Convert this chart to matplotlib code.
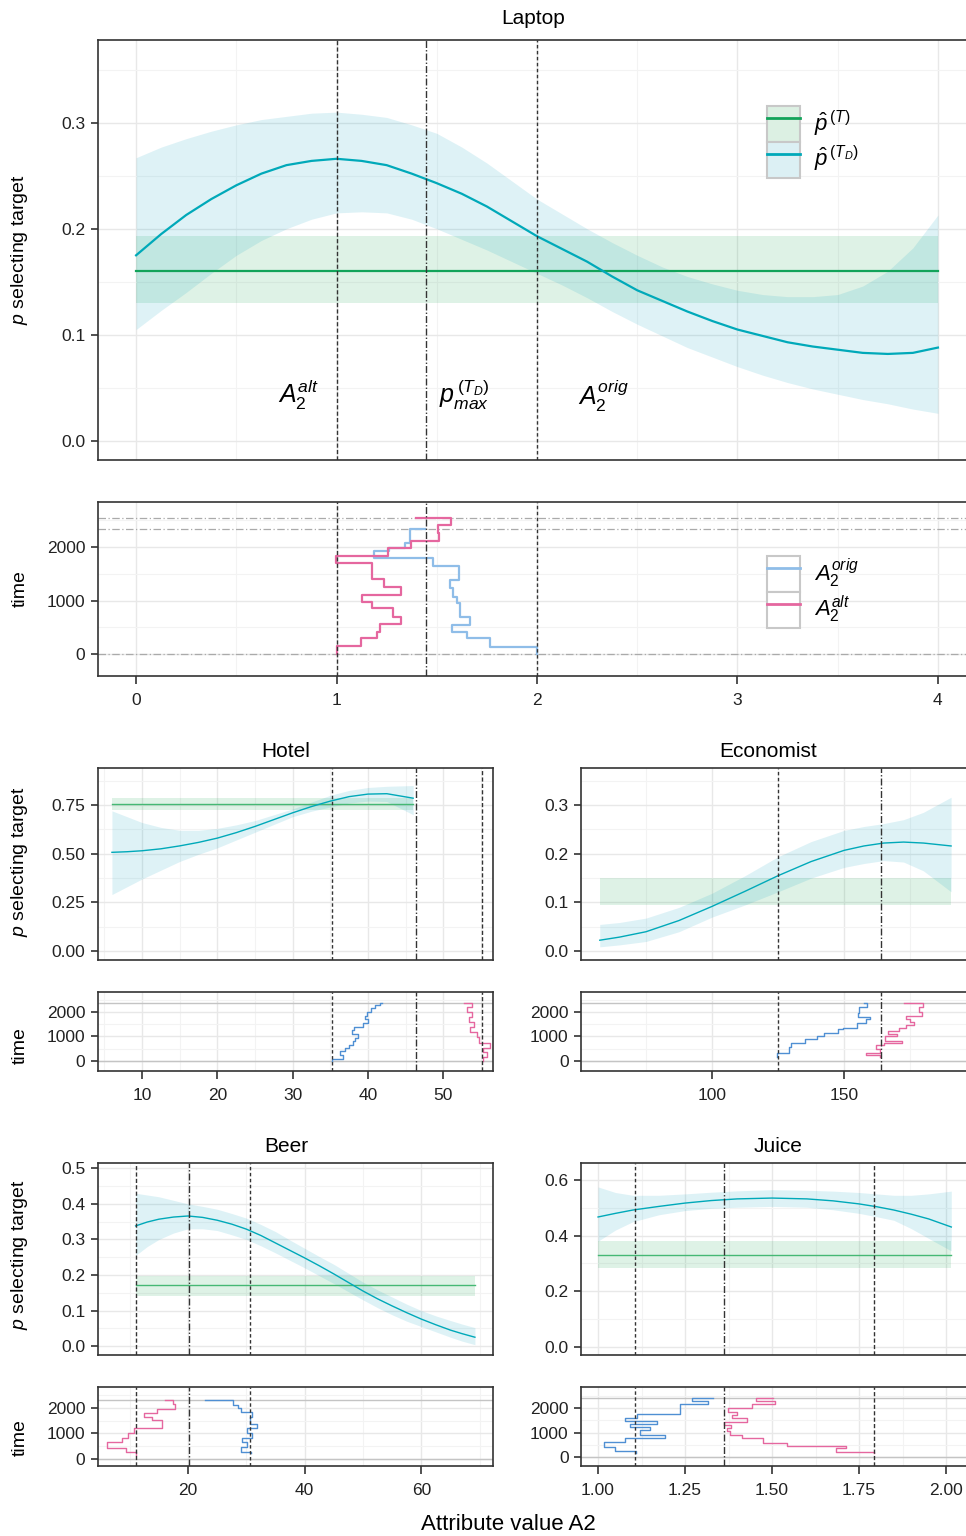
import numpy as np
import matplotlib
matplotlib.use("Agg")
import matplotlib.pyplot as plt
from matplotlib.patches import Patch
from matplotlib.lines import Line2D
from matplotlib.ticker import MultipleLocator

plt.rcParams['font.family'] = ['Liberation Sans', 'DejaVu Sans']
plt.rcParams['mathtext.fontset'] = 'custom'
plt.rcParams['mathtext.rm'] = 'Liberation Sans'
plt.rcParams['mathtext.it'] = 'Liberation Sans:italic'

# ---------------- data ----------------
# Laptop
lap_x = [0, 0.125, 0.25, 0.375, 0.5, 0.625, 0.75, 0.875, 1.0, 1.125, 1.25, 1.375, 1.5, 1.625, 1.75, 1.875,
         2.0, 2.125, 2.25, 2.375, 2.5, 2.625, 2.75, 2.875, 3.0, 3.125, 3.25, 3.375, 3.5, 3.625, 3.75, 3.875, 4.0]
lap_td = [0.175, 0.195, 0.213, 0.228, 0.241, 0.252, 0.260, 0.264, 0.266, 0.264, 0.260, 0.252, 0.243, 0.233,
          0.221, 0.207, 0.193, 0.181, 0.169, 0.155, 0.142, 0.132, 0.122, 0.113, 0.105, 0.099, 0.093, 0.089,
          0.086, 0.083, 0.082, 0.083, 0.088]
lap_td_hi = [0.267, 0.277, 0.285, 0.292, 0.298, 0.303, 0.306, 0.309, 0.310, 0.308, 0.305, 0.298, 0.290, 0.277,
             0.262, 0.245, 0.228, 0.214, 0.200, 0.187, 0.175, 0.164, 0.155, 0.148, 0.142, 0.138, 0.136, 0.136,
             0.138, 0.146, 0.160, 0.182, 0.213]
lap_td_lo = [0.105, 0.123, 0.140, 0.158, 0.175, 0.189, 0.200, 0.209, 0.215, 0.216, 0.215, 0.209, 0.200, 0.190,
             0.180, 0.169, 0.158, 0.147, 0.135, 0.122, 0.110, 0.099, 0.088, 0.079, 0.070, 0.062, 0.055, 0.049,
             0.044, 0.039, 0.035, 0.030, 0.026]
lap_tx = [0, 4]
lap_t = [0.160, 0.160]
lap_t_lo = [0.130, 0.130]
lap_t_hi = [0.193, 0.193]
lap_lines = {"alt": 1.0, "pmax": 1.445, "orig": 2.0}
lap_orig_x = [2.0, 1.765, 1.653, 1.578, 1.667, 1.617, 1.600, 1.583, 1.567, 1.612, 1.483, 1.187, 1.260, 1.342, 1.367, 1.440]
lap_orig_t = [0, 137, 293, 420, 542, 698, 947, 1071, 1227, 1383, 1651, 1788, 1931, 1990, 2081, 2336]
lap_alt_x = [1.0, 1.12, 1.203, 1.217, 1.32, 1.283, 1.175, 1.125, 1.32, 1.237, 1.178, 0.995, 1.257, 1.37, 1.512, 1.507, 1.57, 1.395]
lap_alt_t = [0, 150, 293, 417, 561, 698, 854, 978, 1103, 1258, 1402, 1695, 1832, 1975, 2118, 2255, 2411, 2540]

# Hotel
hot_x = [6, 8, 10, 12.5, 15, 17.5, 20, 22.5, 25, 27.5, 30, 32.5, 35, 37.5, 40, 42.5, 46]
hot_td = [0.507, 0.510, 0.515, 0.525, 0.540, 0.558, 0.580, 0.608, 0.640, 0.675, 0.710, 0.742, 0.770, 0.793,
          0.806, 0.808, 0.785]
hot_td_hi = [0.72, 0.69, 0.66, 0.635, 0.620, 0.620, 0.630, 0.648, 0.670, 0.700, 0.730, 0.765, 0.800, 0.825,
             0.840, 0.846, 0.850]
hot_td_lo = [0.29, 0.33, 0.37, 0.415, 0.460, 0.497, 0.530, 0.570, 0.610, 0.650, 0.690, 0.718, 0.740, 0.760,
             0.770, 0.768, 0.700]
hot_tx = [6, 46]
hot_t = [0.755, 0.755]
hot_t_lo = [0.723, 0.723]
hot_t_hi = [0.785, 0.785]
hot_lines = {"orig": 35.25, "pmax": 46.4, "alt": 55.2}
hot_orig_x = [35.2, 36.7, 36.3, 37.0, 37.5, 38.0, 38.3, 38.7, 37.9, 38.1, 39.4, 40.0, 39.6, 39.9, 40.4, 40.9, 41.6, 41.8]
hot_orig_t = [0, 80, 250, 400, 520, 650, 800, 950, 1100, 1250, 1400, 1550, 1700, 1850, 2000, 2150, 2300, 2367]
hot_alt_x = [55.23, 55.8, 55.27, 56.24, 54.69, 54.47, 53.59, 54.12, 53.37, 53.81, 53.15, 53.81, 52.79]
hot_alt_t = [0, 177, 354, 517, 721, 993, 1197, 1401, 1605, 1810, 2014, 2218, 2354]

# Economist
eco_x = [57.5, 65, 75, 87.5, 100, 112.5, 125, 137.5, 150, 157.5, 165, 172.5, 180, 190.5]
eco_td = [0.0226, 0.029, 0.040, 0.063, 0.092, 0.123, 0.155, 0.184, 0.207, 0.216, 0.222, 0.224, 0.222, 0.216]
eco_td_hi = [0.055, 0.059, 0.068, 0.090, 0.119, 0.155, 0.194, 0.225, 0.248, 0.256, 0.262, 0.270, 0.285, 0.316]
eco_td_lo = [0.009, 0.013, 0.020, 0.040, 0.070, 0.095, 0.122, 0.150, 0.172, 0.180, 0.186, 0.183, 0.165, 0.122]
eco_tx = [57.5, 190.5]
eco_t_lo = [0.095, 0.095]
eco_t_hi = [0.150, 0.150]
eco_lines = {"orig": 125.0, "pmax": 164.0}
eco_orig_x = [124.7, 129.3, 129.8, 135.2, 139.9, 142.2, 147.5, 149.5, 154.8, 158.3, 159.8, 155.2, 155.8, 158.8, 157.6]
eco_orig_t = [177, 340, 585, 748, 884, 1020, 1156, 1293, 1361, 1565, 1700, 1810, 1973, 2218, 2381]
eco_alt_x = [163.6, 158.3, 163.6, 162.0, 165.0, 172.0, 165.4, 170.0, 166.7, 170.7, 173.5, 176.4, 174.9, 173.3, 179.5, 178.3, 180.0, 172.5]
eco_alt_t = [150, 230, 340, 500, 650, 740, 800, 1020, 1100, 1230, 1360, 1470, 1610, 1700, 1850, 2000, 2218, 2381]

# Beer
bee_x = [11, 13, 15, 17.5, 20, 22.5, 25, 27.5, 30, 32.5, 35, 37.5, 40, 42.5, 45, 47.5, 50, 52.5, 55, 57.5,
         60, 62.5, 65, 67, 69.2]
bee_td = [0.338, 0.349, 0.357, 0.363, 0.366, 0.362, 0.354, 0.343, 0.329, 0.311, 0.290, 0.269, 0.248, 0.226,
          0.203, 0.179, 0.155, 0.133, 0.113, 0.094, 0.076, 0.060, 0.045, 0.035, 0.025]
bee_td_hi = [0.43, 0.425, 0.42, 0.41, 0.40, 0.393, 0.385, 0.373, 0.36, 0.342, 0.322, 0.298, 0.275, 0.252,
             0.23, 0.205, 0.18, 0.158, 0.138, 0.118, 0.10, 0.085, 0.072, 0.062, 0.052]
bee_td_lo = [0.255, 0.28, 0.30, 0.318, 0.33, 0.33, 0.325, 0.313, 0.30, 0.282, 0.262, 0.241, 0.22, 0.198,
             0.176, 0.153, 0.13, 0.108, 0.088, 0.07, 0.055, 0.04, 0.025, 0.014, 0.004]
bee_tx = [11.06, 69.2]
bee_t = [0.172, 0.172]
bee_t_lo = [0.141, 0.141]
bee_t_hi = [0.197, 0.197]
bee_lines = {"alt": 11.06, "pmax": 20.15, "orig": 30.6}
bee_alt_x = [11.06, 9.3, 6.05, 8.6, 9.77, 10.8, 15.5, 13.8, 12.5, 14.6, 17.7, 17.4, 16.1]
bee_alt_t = [150, 288, 418, 654, 810, 1007, 1203, 1529, 1660, 1791, 1961, 2144, 2314]
bee_orig_x = [30.79, 29.07, 30.04, 29.19, 30.9, 30.04, 31.76, 30.62, 30.9, 29.07, 28.5, 27.76, 22.9]
bee_orig_t = [222, 288, 484, 654, 810, 1007, 1203, 1360, 1660, 1856, 2013, 2118, 2314]

# Juice
jui_x = [1.0, 1.05, 1.1, 1.175, 1.25, 1.325, 1.4, 1.5, 1.6, 1.675, 1.75, 1.8, 1.85, 1.9, 1.95, 2.015]
jui_td = [0.467, 0.480, 0.492, 0.505, 0.517, 0.526, 0.532, 0.535, 0.532, 0.525, 0.514, 0.504, 0.492, 0.477,
          0.460, 0.431]
jui_td_hi = [0.575, 0.555, 0.545, 0.545, 0.550, 0.556, 0.561, 0.565, 0.563, 0.560, 0.555, 0.550, 0.545,
             0.545, 0.550, 0.560]
jui_td_lo = [0.380, 0.420, 0.450, 0.475, 0.490, 0.498, 0.502, 0.505, 0.502, 0.493, 0.480, 0.468, 0.455,
             0.425, 0.390, 0.345]
jui_tx = [1.0, 2.015]
jui_t = [0.331, 0.331]
jui_t_lo = [0.284, 0.284]
jui_t_hi = [0.381, 0.381]
jui_lines = {"orig": 1.106, "pmax": 1.362, "alt": 1.793}
jui_orig_x = [1.109, 1.049, 1.017, 1.078, 1.191, 1.121, 1.149, 1.092, 1.169, 1.078, 1.111, 1.235, 1.315, 1.269, 1.329]
jui_orig_t = [150, 245, 422, 626, 762, 898, 1102, 1238, 1333, 1469, 1605, 1741, 2149, 2299, 2422]
jui_alt_x = [1.793, 1.684, 1.712, 1.544, 1.473, 1.413, 1.379, 1.370, 1.381, 1.362, 1.427, 1.384, 1.398, 1.374, 1.441, 1.508, 1.453, 1.503]
jui_alt_t = [150, 190, 381, 449, 585, 762, 898, 1061, 1197, 1306, 1442, 1578, 1714, 1850, 1986, 2149, 2286, 2422]

# ---------------- styling ----------------
CYAN = '#00a9b9'
CYAN_BAND = '#00a0c0'
GREEN = '#12a35a'
GREEN_SMALL = '#45b874'
GREEN_BAND = '#1aa550'
BLUE_L = '#8fbde8'
BLUE = '#4f8fd3'
PINK = '#e5679f'
DARK = '#333333'
GRID = '#e8e8e8'
GRID_MINOR = '#f3f3f3'
LS = {"alt": (0, (3, 1.6)), "orig": (0, (2.5, 1.8)), "pmax": (0, (5, 1.5, 1, 1.5))}
TICK_FS = 12.5

W, H = 966, 1536
fig = plt.figure(figsize=(W / 100, H / 100), dpi=100)


def add_ax(x0, y0, x1, y1):
    return fig.add_axes([x0 / W, 1 - y1 / H, (x1 - x0) / W, (y1 - y0) / H])


def style(ax, xlim, ylim, xmaj, ymaj, show_x, ylabels=None, xlabels=None):
    ax.set_xlim(*xlim)
    ax.set_ylim(*ylim)
    ax.xaxis.set_major_locator(MultipleLocator(xmaj))
    ax.xaxis.set_minor_locator(MultipleLocator(xmaj / 2))
    ax.yaxis.set_major_locator(MultipleLocator(ymaj))
    ax.yaxis.set_minor_locator(MultipleLocator(ymaj / 2))
    ax.grid(True, which='major', color=GRID, lw=1.0, zorder=0)
    ax.grid(True, which='minor', color=GRID_MINOR, lw=0.8, zorder=0)
    ax.set_axisbelow(True)
    for s in ax.spines.values():
        s.set_color(DARK)
        s.set_linewidth(1.2)
    ax.tick_params(which='minor', length=0)
    ax.tick_params(axis='y', which='major', direction='out', length=5, width=1.2,
                   color=DARK, labelsize=TICK_FS, labelcolor='#222222', pad=4)
    if show_x:
        ax.tick_params(axis='x', which='major', direction='out', length=6, width=1.2,
                       color=DARK, labelsize=TICK_FS, labelcolor='#222222', pad=6)
    else:
        ax.tick_params(axis='x', which='major', length=0, labelbottom=False)
    if ylabels is not None:
        ax.set_yticks(ylabels[0])
        ax.set_yticklabels(ylabels[1])
    if xlabels is not None:
        ax.set_xticks(xlabels)
        ax.set_xticklabels([str(v) for v in xlabels])


def top_panel(ax, x, td, lo, hi, tx, tlo, thi, t, lines, lw, gcol):
    ax.fill_between(tx, tlo, thi, color=GREEN_BAND, alpha=0.14, lw=0, zorder=1)
    ax.fill_between(x, lo, hi, color=CYAN_BAND, alpha=0.13, lw=0, zorder=2)
    if t is not None:
        ax.plot(tx, t, color=gcol, lw=lw, zorder=3)
    ax.plot(x, td, color=CYAN, lw=lw, zorder=4)
    for k, v in lines.items():
        ax.axvline(v, color=DARK, lw=1.0, ls=LS[k], zorder=5)


def time_panel(ax, ox, ot, axx, at, lines, blue, lw, hlines, hstyle):
    for h in hlines:
        if hstyle == 'dashdot':
            ax.axhline(h, color='#aaaaaa', lw=0.9, ls=(0, (6, 2, 1, 2)), zorder=1)
        else:
            ax.axhline(h, color='#c4c4c4', lw=1.0, zorder=1)
    ax.plot(ox, ot, drawstyle='steps-pre', color=blue, lw=lw, zorder=3)
    ax.plot(axx, at, drawstyle='steps-pre', color=PINK, lw=lw, zorder=3)
    for k, v in lines.items():
        ax.axvline(v, color=DARK, lw=1.0, ls=LS[k], zorder=5)


def key_legend(ax, handles, labels, ytop):
    ax.legend(handles, labels, loc='upper left', bbox_to_anchor=(767 / W, 1 - ytop / H),
              bbox_transform=fig.transFigure, frameon=False, fontsize=16,
              handlelength=1.5, handleheight=2.1, labelspacing=0.0, handletextpad=0.6,
              borderpad=0, borderaxespad=0)


# ---------------- Laptop ----------------
ax1 = add_ax(98, 40, 968, 460)
top_panel(ax1, lap_x, lap_td, lap_td_lo, lap_td_hi, lap_tx, lap_t_lo, lap_t_hi, lap_t, lap_lines, 1.6, GREEN)
style(ax1, (-0.19, 4.15), (-0.018, 0.378), 1, 0.1, False,
      ylabels=([0, 0.1, 0.2, 0.3], ['0.0', '0.1', '0.2', '0.3']))
ax1.set_xticks([0, 1, 2, 3, 4])
ax1.tick_params(axis='x', length=0, labelbottom=False)
ax1.text(0.81, 0.043, r'$A_2^{alt}$', fontsize=18, ha='center', va='center')
ax1.text(1.64, 0.043, r'$p^{\,(T_D)}_{max}$', fontsize=18, ha='center', va='center')
ax1.text(2.33, 0.043, r'$A_2^{orig}$', fontsize=18, ha='center', va='center')

h_t = (Patch(facecolor='#dcf0e3', edgecolor='#c8c8c8', lw=1.5), Line2D([], [], color=GREEN, lw=2))
h_td = (Patch(facecolor='#dcf0f4', edgecolor='#c8c8c8', lw=1.5), Line2D([], [], color=CYAN, lw=2))
key_legend(ax1, [h_t, h_td], [r'$\hat{p}^{\,(T)}$', r'$\hat{p}^{\,(T_D)}$'], 106)

ax2 = add_ax(98, 502, 968, 676)
time_panel(ax2, lap_orig_x, lap_orig_t, lap_alt_x, lap_alt_t, lap_lines, BLUE_L, 1.6,
           [0, lap_orig_t[-1], lap_alt_t[-1]], 'dashdot')
style(ax2, (-0.19, 4.15), (-411, 2841), 1, 1000, True,
      ylabels=([0, 1000, 2000], ['0', '1000', '2000']), xlabels=[0, 1, 2, 3, 4])
h_o = (Patch(facecolor='white', edgecolor='#c8c8c8', lw=1.5), Line2D([], [], color=BLUE_L, lw=2))
h_a = (Patch(facecolor='white', edgecolor='#c8c8c8', lw=1.5), Line2D([], [], color=PINK, lw=2))
key_legend(ax2, [h_o, h_a], [r'$A_2^{orig}$', r'$A_2^{alt}$'], 556)

# ---------------- small panels ----------------
panels = [
    ("Hotel", (98, 493), 768, (4.15, 56.6), (-0.046, 0.94), 10, 0.25,
     ([0, 0.25, 0.5, 0.75], ['0.00', '0.25', '0.50', '0.75']), [10, 20, 30, 40, 50],
     hot_x, hot_td, hot_td_lo, hot_td_hi, hot_tx, hot_t_lo, hot_t_hi, hot_t, hot_lines,
     hot_orig_x, hot_orig_t, hot_alt_x, hot_alt_t, (-408, 2816)),
    ("Economist", (581, 968), 768, (50.4, 196.9), (-0.018, 0.376), 50, 0.1,
     ([0, 0.1, 0.2, 0.3], ['0.0', '0.1', '0.2', '0.3']), [100, 150],
     eco_x, eco_td, eco_td_lo, eco_td_hi, eco_tx, eco_t_lo, eco_t_hi, None, eco_lines,
     eco_orig_x, eco_orig_t, eco_alt_x, eco_alt_t, (-408, 2816)),
    ("Beer", (98, 493), 1163, (4.55, 72.3), (-0.025, 0.515), 20, 0.1,
     ([0, 0.1, 0.2, 0.3, 0.4, 0.5], ['0.0', '0.1', '0.2', '0.3', '0.4', '0.5']), [20, 40, 60],
     bee_x, bee_td, bee_td_lo, bee_td_hi, bee_tx, bee_t_lo, bee_t_hi, bee_t, bee_lines,
     bee_orig_x, bee_orig_t, bee_alt_x, bee_alt_t, (-275, 2824)),
    ("Juice", (581, 968), 1163, (0.951, 2.063), (-0.029, 0.661), 0.25, 0.2,
     ([0, 0.2, 0.4, 0.6], ['0.0', '0.2', '0.4', '0.6']), [1.0, 1.25, 1.5, 1.75, 2.0],
     jui_x, jui_td, jui_td_lo, jui_td_hi, jui_tx, jui_t_lo, jui_t_hi, jui_t, jui_lines,
     jui_orig_x, jui_orig_t, jui_alt_x, jui_alt_t, (-367, 2857)),
]

for (name, (xa, xb), ytop, xlim, ylim, xmaj, ymaj, ytk, xtk,
     x, td, lo, hi, tx, tlo, thi, t, lines, ox, ot, axx, at, tlim) in panels:
    a = add_ax(xa, ytop, xb, ytop + 192)
    top_panel(a, x, td, lo, hi, tx, tlo, thi, t, lines, 1.0, GREEN_SMALL)
    style(a, xlim, ylim, xmaj, ymaj, False, ylabels=ytk)
    a.set_xticks(xtk)
    a.tick_params(axis='x', length=0, labelbottom=False)
    b = add_ax(xa, ytop + 224, xb, ytop + 303)
    time_panel(b, ox, ot, axx, at, lines, BLUE, 1.0, [0, max(ot[-1], at[-1])], 'solid')
    style(b, xlim, tlim, xmaj, 1000, True,
          ylabels=([0, 1000, 2000], ['0', '1000', '2000']))
    b.set_xticks(xtk)
    if name == "Juice":
        b.set_xticklabels(['1.00', '1.25', '1.50', '1.75', '2.00'])
    else:
        b.set_xticklabels([str(v) for v in xtk])
    cx = 286 if xa < 300 else (768 if name == "Economist" else 778)
    fig.text(cx / W, 1 - (ytop - 17) / H, name, fontsize=15, ha='center', va='center')

# ---------------- titles and labels ----------------
fig.text(533 / W, 1 - 19 / H, "Laptop", fontsize=15, ha='center', va='center')
for yc in (250, 862, 1255):
    fig.text(20 / W, 1 - yc / H, r'$p$ selecting target', fontsize=14, rotation=90,
             ha='center', va='center')
for yc in (589, 1046, 1438):
    fig.text(20 / W, 1 - yc / H, "time", fontsize=14, rotation=90, ha='center', va='center')
fig.text(508 / W, 1 - 1524 / H, "Attribute value A2", fontsize=16, ha='center', va='center')

fig.savefig("out.png", dpi=100)
